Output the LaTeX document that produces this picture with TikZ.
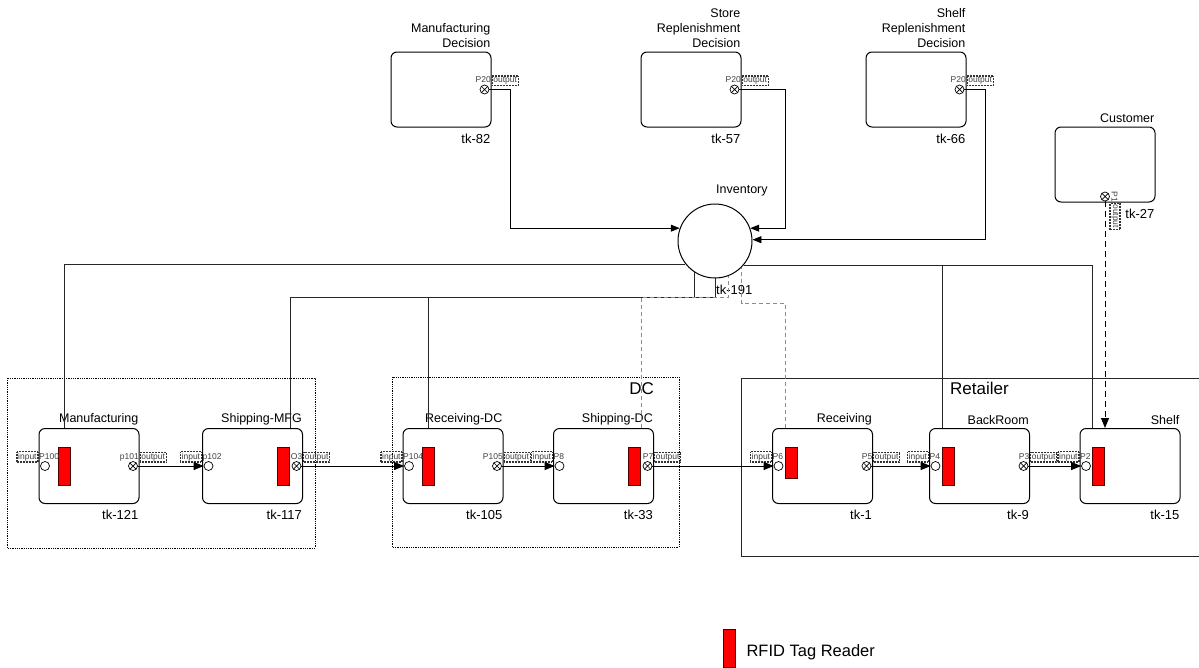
\documentclass[tikz,border=0pt]{standalone}
\usepackage{fontspec}
\setmainfont{Liberation Sans}
\usetikzlibrary{arrows.meta, positioning}

\begin{document}
\begin{tikzpicture}[
    x=1pt, y=-1pt,
    proc/.style = {rectangle, draw, line width=1pt, rounded corners=6pt,
                   minimum width=100pt, minimum height=75pt, inner sep=0pt},
    hub/.style = {circle, draw, line width=1pt, minimum size=74pt, inner sep=0pt},
    rfid/.style = {rectangle, draw=red!30!black, fill=red, line width=0.8pt,
                   minimum width=12pt, minimum height=38pt, inner sep=0pt},
    inport/.style = {circle, draw, line width=0.7pt, minimum size=9pt, inner sep=0pt},
    outport/.style = {inport, path picture={
        \draw[line width=0.7pt] (path picture bounding box.north west) -- (path picture bounding box.south east)
              (path picture bounding box.south west) -- (path picture bounding box.north east);}},
    pname/.style = {font=\fontsize{8.5}{9}\selectfont, text=black!75, inner sep=0.5pt},
    tag/.style = {pname, draw=black!80, line width=1.4pt, dash pattern=on 0.8pt off 0.7pt, inner sep=1.2pt},
    ttl/.style = {font=\fontsize{12.5}{15}\selectfont, anchor=south east, inner sep=1pt,
                  align=right, yshift=2pt},
    tkl/.style = {font=\fontsize{13}{15}\selectfont, anchor=north east, inner sep=1pt, yshift=-5pt},
    grpname/.style = {font=\fontsize{17}{20}\selectfont, inner sep=1pt},
    grp/.style = {densely dotted, line width=0.8pt},
    flow/.style = {-{Triangle[length=10pt, width=8pt]}, line width=0.9pt},
    feed/.style = {-{Triangle[length=9pt, width=7pt]}, line width=0.8pt},
    link/.style = {line width=0.7pt, black!85},
    tagline/.style = {line width=0.7pt, black!45, dash pattern=on 4pt off 3pt},
    demand/.style = {-{Triangle[length=10pt, width=8pt]}, line width=0.9pt, dash pattern=on 6pt off 4pt},
]
\useasboundingbox (0,0) rectangle (1199,667);

%% ---- Group frames ----
\draw[grp] (7,378) rectangle (315,548);
\draw[grp] (392,377) rectangle (679,547);
\draw[line width=0.8pt, black!85] (1199,378) -- (741,378) -- (741,556) -- (1199,556);
\node[grpname, anchor=north east] (dcname) at (655,381) {DC};
\node[grpname, anchor=north west] (retname) at (949,381) {Retailer};

%% ---- Decision makers ----
\node[proc] (dmfg) at (441,89.5) {};
\node[ttl, yshift=1pt] (dmfgname) at (dmfg.north east) {Manufacturing\\Decision};
\node[tkl] (dmfgtk) at (dmfg.south east) {tk-82};
\node[outport] (dmfgout) at ([xshift=-7pt]dmfg.east) {};
\node[pname, anchor=base east] (dmfgp) at ([yshift=7pt]dmfg.east) {P20};
\node[tag, anchor=base west] (dmfgtag) at ([yshift=7pt]dmfg.east) {output};

\node[proc] (dstore) at (691,89.5) {};
\node[ttl, yshift=1pt] (dstorename) at (dstore.north east) {Store\\Replenishment\\Decision};
\node[tkl] (dstoretk) at (dstore.south east) {tk-57};
\node[outport] (dstoreout) at ([xshift=-7pt]dstore.east) {};
\node[pname, anchor=base east] (dstorep) at ([yshift=7pt]dstore.east) {P20};
\node[tag, anchor=base west] (dstoretag) at ([yshift=7pt]dstore.east) {output};

\node[proc] (dshelf) at (916,89.5) {};
\node[ttl, yshift=1pt] (dshelfname) at (dshelf.north east) {Shelf\\Replenishment\\Decision};
\node[tkl] (dshelftk) at (dshelf.south east) {tk-66};
\node[outport] (dshelfout) at ([xshift=-7pt]dshelf.east) {};
\node[pname, anchor=base east] (dshelfp) at ([yshift=7pt]dshelf.east) {P20};
\node[tag, anchor=base west] (dshelftag) at ([yshift=7pt]dshelf.east) {output};

%% ---- Customer ----
\node[proc] (cust) at (1105,164.5) {};
\node[ttl, yshift=1pt] (custname) at (cust.north east) {Customer};
\node[tkl] (custtk) at (cust.south east) {tk-27};
\node[outport] (custout) at ([yshift=6pt]cust.south) {};
\node[pname, rotate=-90, anchor=east] (custp) at ([xshift=9.5pt]cust.south) {P1};
\node[tag, rotate=-90, anchor=west] (custtag) at ([xshift=10pt]cust.south) {output};

%% ---- Inventory ----
\node[hub] (inv) at (715,241) {};
\node[ttl, anchor=south west, yshift=0pt] (invname) at ([yshift=4pt]inv.north) {Inventory};
\node[tkl, anchor=north west] (invtk) at (inv.south) {tk-191};

%% ---- Supply chain stages ----
\node[proc] (mfg) at (89,466) {};
\node[ttl] (mfgname) at (mfg.north east) {Manufacturing};
\node[tkl] (mfgtk) at (mfg.south east) {tk-121};
\node[rfid] (mfgrfid) at (64.5,466) {};
\node[inport] (mfgin) at ([xshift=6.5pt]mfg.west) {};
\node[pname, anchor=base west] (mfginp) at ([yshift=7pt]mfg.west) {P100};
\node[tag, anchor=base east] (mfgintag) at ([yshift=7pt]mfg.west) {input};
\node[outport] (mfgout) at ([xshift=-6.5pt]mfg.east) {};
\node[pname, anchor=base east] (mfgoutp) at ([yshift=7pt]mfg.east) {p101};
\node[tag, anchor=base west] (mfgouttag) at ([yshift=7pt]mfg.east) {output};

\node[proc] (shipmfg) at (252.5,466) {};
\node[ttl] (shipmfgname) at (shipmfg.north east) {Shipping-MFG};
\node[tkl] (shipmfgtk) at (shipmfg.south east) {tk-117};
\node[rfid] (shipmfgrfid) at (283.5,466) {};
\node[inport] (shipmfgin) at ([xshift=6.5pt]shipmfg.west) {};
\node[pname, anchor=base west] (shipmfginp) at ([yshift=7pt]shipmfg.west) {p102};
\node[tag, anchor=base east] (shipmfgintag) at ([yshift=7pt]shipmfg.west) {input};
\node[outport] (shipmfgout) at ([xshift=-6.5pt]shipmfg.east) {};
\node[pname, anchor=base east] (shipmfgoutp) at ([yshift=7pt]shipmfg.east) {O3};
\node[tag, anchor=base west] (shipmfgouttag) at ([yshift=7pt]shipmfg.east) {output};

\node[proc] (recvdc) at (453,466) {};
\node[ttl] (recvdcname) at (recvdc.north east) {Receiving-DC};
\node[tkl] (recvdctk) at (recvdc.south east) {tk-105};
\node[rfid] (recvdcrfid) at (428,466) {};
\node[inport] (recvdcin) at ([xshift=6.5pt]recvdc.west) {};
\node[pname, anchor=base west] (recvdcinp) at ([yshift=7pt]recvdc.west) {P104};
\node[tag, anchor=base east] (recvdcintag) at ([yshift=7pt]recvdc.west) {input};
\node[outport] (recvdcout) at ([xshift=-6.5pt]recvdc.east) {};
\node[pname, anchor=base east] (recvdcoutp) at ([yshift=7pt]recvdc.east) {P105};
\node[tag, anchor=base west] (recvdcouttag) at ([yshift=7pt]recvdc.east) {output};

\node[proc] (shipdc) at (603.5,466) {};
\node[ttl] (shipdcname) at (shipdc.north east) {Shipping-DC};
\node[tkl] (shipdctk) at (shipdc.south east) {tk-33};
\node[rfid] (shipdcrfid) at (634.5,466) {};
\node[inport] (shipdcin) at ([xshift=6.5pt]shipdc.west) {};
\node[pname, anchor=base west] (shipdcinp) at ([yshift=7pt]shipdc.west) {P8};
\node[tag, anchor=base east] (shipdcintag) at ([yshift=7pt]shipdc.west) {input};
\node[outport] (shipdcout) at ([xshift=-6.5pt]shipdc.east) {};
\node[pname, anchor=base east] (shipdcoutp) at ([yshift=7pt]shipdc.east) {P7};
\node[tag, anchor=base west] (shipdcouttag) at ([yshift=7pt]shipdc.east) {output};

\node[proc] (recv) at (822.5,466) {};
\node[ttl] (recvname) at (recv.north east) {Receiving};
\node[tkl] (recvtk) at (recv.south east) {tk-1};
\node[rfid, minimum height=31pt] (recvrfid) at (791.5,462.5) {};
\node[inport] (recvin) at ([xshift=6.5pt]recv.west) {};
\node[pname, anchor=base west] (recvinp) at ([yshift=7pt]recv.west) {P6};
\node[tag, anchor=base east] (recvintag) at ([yshift=7pt]recv.west) {input};
\node[outport] (recvout) at ([xshift=-6.5pt]recv.east) {};
\node[pname, anchor=base east] (recvoutp) at ([yshift=7pt]recv.east) {P5};
\node[tag, anchor=base west] (recvouttag) at ([yshift=7pt]recv.east) {output};

\node[proc] (back) at (979.5,466) {};
\node[ttl] (backname) at (back.north east) {BackRoom};
\node[tkl] (backtk) at (back.south east) {tk-9};
\node[rfid] (backrfid) at (948.5,466) {};
\node[inport] (backin) at ([xshift=6.5pt]back.west) {};
\node[pname, anchor=base west] (backinp) at ([yshift=7pt]back.west) {P4};
\node[tag, anchor=base east] (backintag) at ([yshift=7pt]back.west) {input};
\node[outport] (backout) at ([xshift=-6.5pt]back.east) {};
\node[pname, anchor=base east] (backoutp) at ([yshift=7pt]back.east) {P3};
\node[tag, anchor=base west] (backouttag) at ([yshift=7pt]back.east) {output};

\node[proc] (shelf) at (1130,466) {};
\node[ttl] (shelfname) at (shelf.north east) {Shelf};
\node[tkl] (shelftk) at (shelf.south east) {tk-15};
\node[rfid] (shelfrfid) at (1098.5,466) {};
\node[inport] (shelfin) at ([xshift=6.5pt]shelf.west) {};
\node[pname, anchor=base west] (shelfinp) at ([yshift=7pt]shelf.west) {P2};
\node[tag, anchor=base east] (shelfintag) at ([yshift=7pt]shelf.west) {input};

%% ---- Material flow ----
\draw[flow] (mfgout) -- (shipmfgin);
\draw[flow] (shipmfgout) -- (recvdcin);
\draw[flow] (recvdcout) -- (shipdcin);
\draw[flow] (shipdcout) -- (recvin);
\draw[flow] (recvout) -- (backin);
\draw[flow] (backout) -- (shelfin);
\draw[demand] (custout) -- (custout |- shelf.north);

%% ---- Decisions into inventory ----
\draw[feed] (dmfgout) -- ++(26,0) |- (inv.160);
\draw[feed] (dstoreout) -- ++(51,0) |- (inv.20);
\draw[feed] (dshelfout) -- ++(26,0) |- (inv.2);

%% ---- Readers to inventory ----
\coordinate (bus) at (0,297);
\coordinate (dashbus) at (0,303);
\draw[link] (mfgrfid |- mfg.north) |- (inv.218);
\draw[link] (shipmfgrfid.east |- shipmfg.north) |- (inv.271 |- bus) -- (inv.271);
\draw[link] (recvdcrfid |- recvdc.north) |- (inv.237 |- bus) -- (inv.237);
\draw[link] (backrfid.west |- back.north) -- (backrfid.west |- inv.320);
\draw[link] (shelfrfid.west |- shelf.north) |- (inv.320);
\draw[tagline] (shipdcrfid.east |- shipdc.north) |- (inv.291 |- bus) -- (inv.291);
\draw[tagline] (recvrfid.west |- recv.north) |- (inv.315 |- dashbus) -- (inv.315);

%% ---- Legend ----
\node[rfid] (legrfid) at (729,648) {};
\node[font=\fontsize{16.5}{18}\selectfont, anchor=west] (legtext) at (743,652) {RFID Tag Reader};

\end{tikzpicture}
\end{document}
